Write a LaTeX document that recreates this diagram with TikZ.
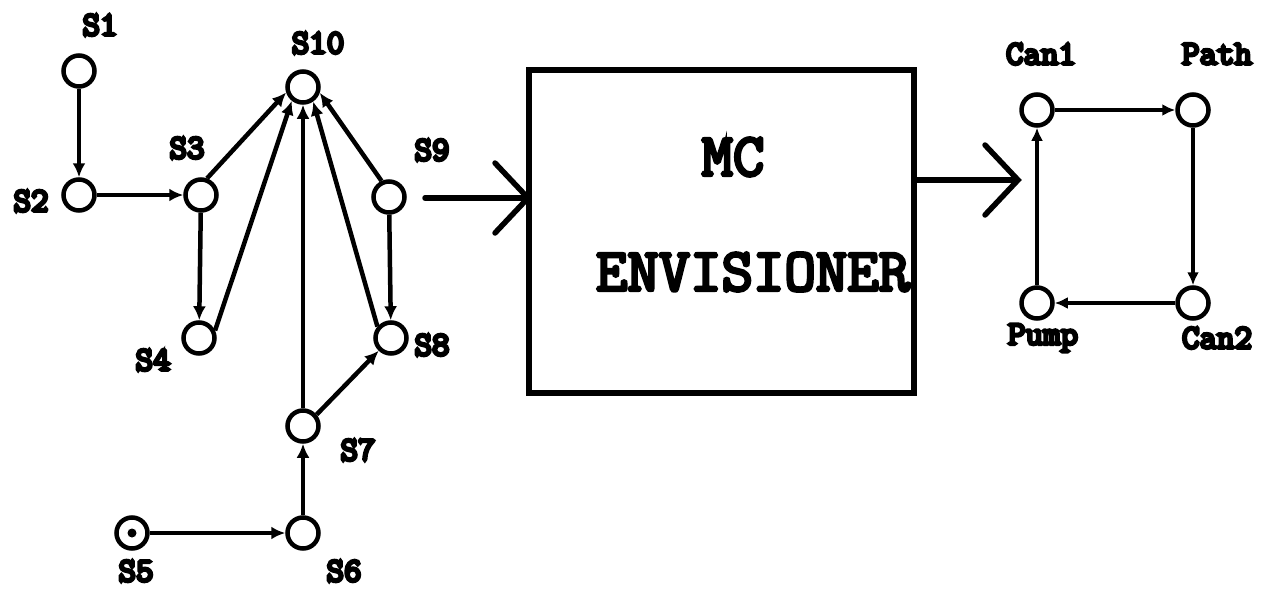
\documentclass[tikz,border=0pt]{standalone}
\usepackage{fontspec}
\newfontfamily\labfont{Latin Modern Mono}[FakeBold=9]
\newfontfamily\bigfont{Latin Modern Mono}[FakeBold=5]
\usetikzlibrary{arrows.meta}
\begin{document}
\begin{tikzpicture}[x=1pt,y=-1pt,
  st/.style={circle,draw,line width=4.5pt,minimum size=31pt,inner sep=0pt},
  lab/.style={inner sep=0pt,font=\labfont\fontsize{34}{34}\selectfont},
  big/.style={inner sep=0pt,font=\bigfont\fontsize{61}{61}\selectfont},
  edge/.style={line width=4.5pt,-{Latex[length=14pt,width=13pt]}},
  redge/.style={line width=4pt,-{Latex[length=13pt,width=12pt]}},
  bigline/.style={line width=5.5pt,line cap=round,line join=miter}]
\useasboundingbox (0,0) rectangle (1261,589);
% states
\node[st] (s1) at (79,71) {};
\node[st] (s2) at (79,195) {};
\node[st] (s3) at (201,195) {};
\node[st] (s4) at (199,338) {};
\node[st] (s10) at (303,87) {};
\node[st] (s9) at (389,197) {};
\node[st] (s8) at (391,338) {};
\node[st] (s7) at (303,426) {};
\node[st] (s6) at (303,533) {};
\node[st] (s5) at (132,533) {};
\fill (s5.center) circle (4.5pt);
% labels
\node[lab] (l1) at (100,25) {S1};
\node[lab] (l2) at (31,201) {S2};
\node[lab] (l3) at (187,148) {S3};
\node[lab] (l4) at (153,360) {S4};
\node[lab] (l5) at (136,571) {S5};
\node[lab] (l6) at (344,571) {S6};
\node[lab] (l7) at (358,450) {S7};
\node[lab] (l8) at (432,345) {S8};
\node[lab] (l9) at (432,150) {S9};
\node[lab] (l10) at (318,43) {S10};
% edges
\draw[edge] (s1) -- (s2);
\draw[edge] (s2) -- (s3);
\draw[edge] (s3) -- (s4);
\draw[edge] (s3.70) -- (s10.198);
\draw[edge] (s4.25) -- (s10.231);
\draw[edge] (s7) -- (s10);
\draw[edge] (s8.140) -- (s10.305);
\draw[edge] (s9.115) -- (s10.341);
\draw[edge] (s9) -- (s8);
\draw[edge] (s7.40) -- (s8.226);
\draw[edge] (s6) -- (s7);
\draw[edge] (s5) -- (s6);
% envisioner box
\node[draw,line width=5.5pt,minimum width=385pt,minimum height=323pt,inner sep=0pt] (box) at (721.5,231.5) {};
\node[big] (mc) at (733,157) {MC};
\node[big] (env) at (753,272) {ENVISIONER};
% big arrows
\coordinate (inL) at (425,198);
\coordinate (tipL) at (528,198);
\draw[bigline] (inL) -- (tipL);
\draw[bigline] ([shift={(-33,-35)}]tipL) -- (tipL) -- ([shift={(-33,35)}]tipL);
\coordinate (tipR) at (1018,180);
\draw[bigline,line cap=butt] (box.east |- tipR) -- (tipR);
\draw[bigline] ([shift={(-33,-35)}]tipR) -- (tipR) -- ([shift={(-33,35)}]tipR);
% result graph
\node[st] (can1) at (1037,110) {};
\node[st] (path) at (1193,110) {};
\node[st] (pump) at (1037,303) {};
\node[st] (can2) at (1193,303) {};
\node[lab] (lc1) at (1041,54) {Can1};
\node[lab] (lp) at (1217,54) {Path};
\node[lab] (lpu) at (1043,338) {Pump};
\node[lab] (lc2) at (1217,338) {Can2};
\draw[redge] (can1) -- (path);
\draw[redge] (path) -- (can2);
\draw[redge] (can2) -- (pump);
\draw[redge] (pump) -- (can1);
\end{tikzpicture}
\end{document}
